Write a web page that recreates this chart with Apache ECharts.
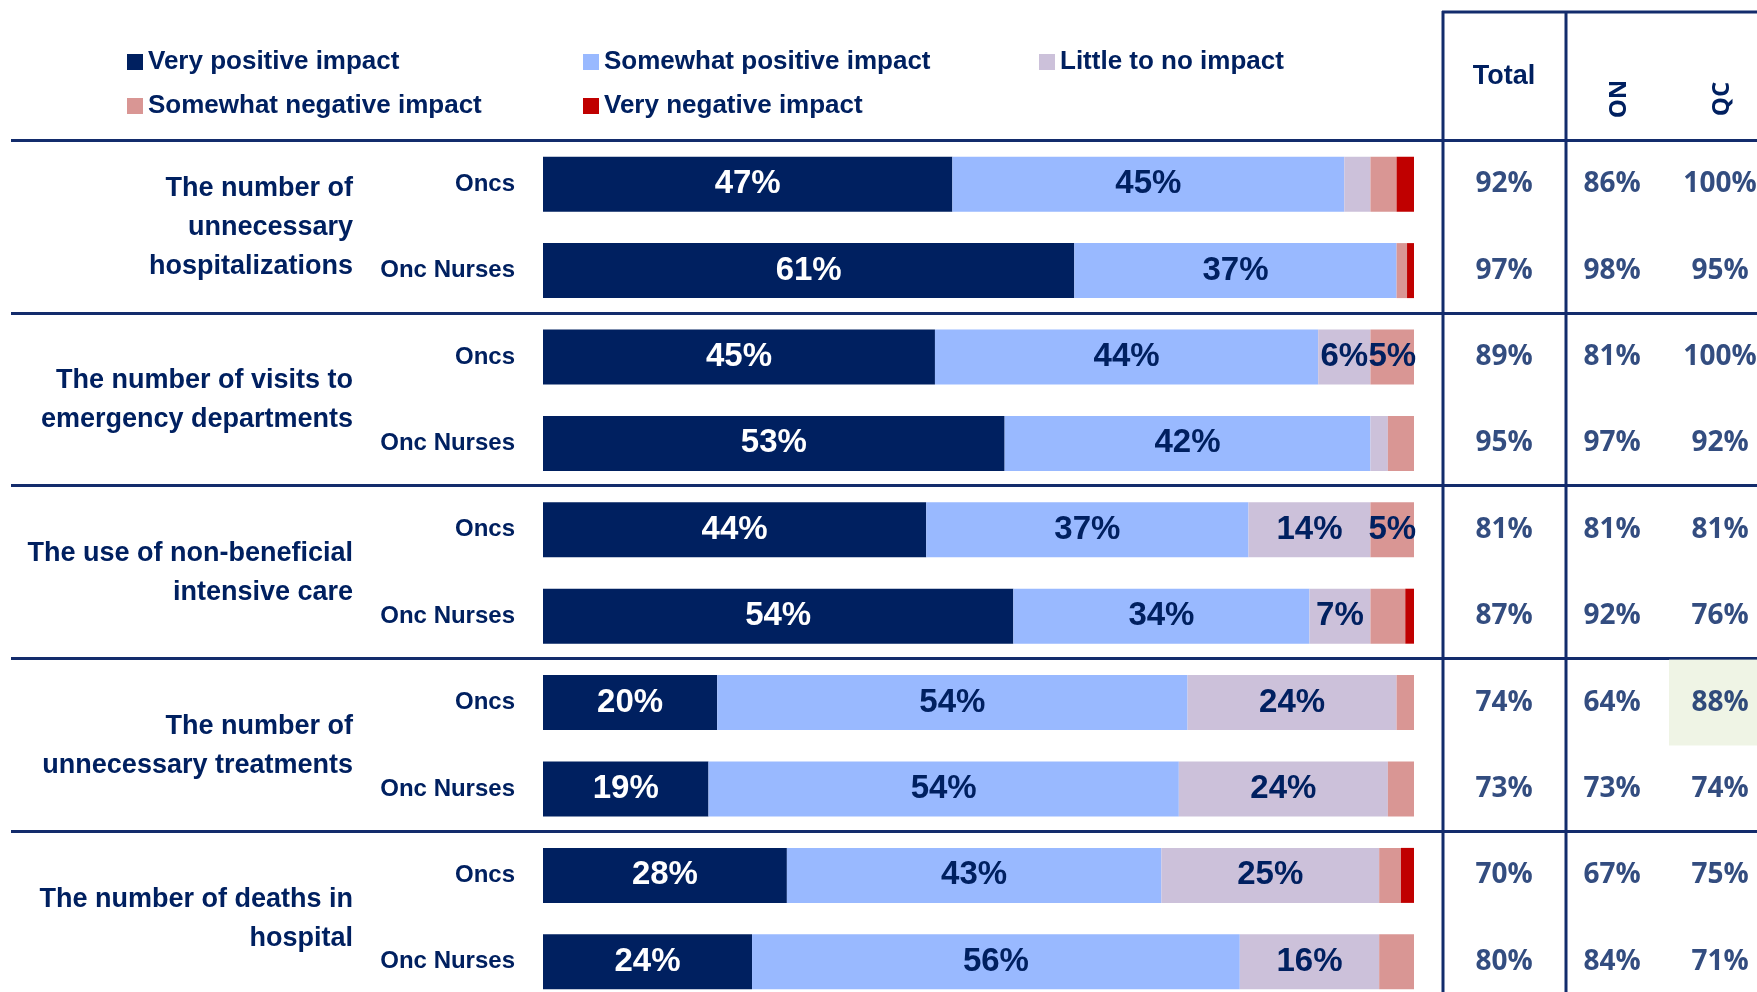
<!DOCTYPE html>
<html>
<head>
<meta charset="utf-8">
<script src="https://cdn.jsdelivr.net/npm/echarts@6/dist/echarts.min.js"></script>
<style>
  html, body { margin: 0; padding: 0; background: #fff; }
  #chart { width: 1757px; height: 992px; }
</style>
</head>
<body>
<div id="chart"></div>
<script>
// groups (left labels) and the rows inside them
var groups = [
  'The number of\nunnecessary\nhospitalizations',
  'The number of visits to\nemergency departments',
  'The use of non-beneficial\nintensive care',
  'The number of\nunnecessary treatments',
  'The number of deaths in\nhospital'
];
var rows = ['Oncs', 'Onc Nurses', 'Oncs', 'Onc Nurses', 'Oncs', 'Onc Nurses', 'Oncs', 'Onc Nurses', 'Oncs', 'Onc Nurses'];

// stacked bar values (%)
var veryPositive     = [47, 61, 45, 53, 44, 54, 20, 19, 28, 24];
var somewhatPositive = [45, 37, 44, 42, 37, 34, 54, 54, 43, 56];
var littleImpact     = [3, 0, 6, 2, 14, 7, 24, 24, 25, 16];
var somewhatNegative = [3, 1.2, 5, 3, 5, 4, 2, 3, 2.5, 4];
var veryNegative     = [2, 0.8, 0, 0, 0, 1, 0, 0, 1.5, 0];

// table on the right
var tableCols = ['Total', 'ON', 'QC'];
var totalPct = [92, 97, 89, 95, 81, 87, 74, 73, 70, 80];
var onPct    = [86, 98, 81, 97, 81, 92, 64, 73, 67, 84];
var qcPct    = [100, 95, 100, 92, 81, 76, 88, 74, 75, 71];
var highlighted = [[2, 6]];

var navy = '#002060';
var lineColor = '#132c6c';
var font = "'Liberation Sans', Arial, sans-serif";
var tableFont = "'Open Sans', 'Liberation Sans', sans-serif";

var chart = echarts.init(document.getElementById('chart'));

function barSeries(name, data, color, labelColor) {
  return {
    name: name,
    type: 'bar',
    stack: 'all',
    xAxisIndex: 1,
    yAxisIndex: 1,
    barWidth: 55,
    data: data,
    itemStyle: { color: color },
    label: {
      show: true,
      position: 'inside',
      color: labelColor,
      fontFamily: font,
      fontWeight: 'bold',
      fontSize: 33,
      formatter: function (p) {
        return p.value >= 5 ? p.value + '%' : '';
      }
    }
  };
}

// one legend per entry so the columns line up like the original
function legendItem(left, top, name) {
  return {
    left: left,
    top: top,
    padding: 0,
    itemWidth: 16,
    itemHeight: 16,
    icon: 'rect',
    selectedMode: false,
    textStyle: { fontSize: 26, fontWeight: 'bold', fontFamily: font, color: navy },
    data: [name]
  };
}

var tableData = [];
for (var i = 0; i < rows.length; i++) {
  tableData.push([0, i, totalPct[i]]);
  tableData.push([1, i, onPct[i]]);
  tableData.push([2, i, qcPct[i]]);
}

var option = {
  animation: false,
  backgroundColor: '#fff',
  legend: [
    legendItem(127, 49, 'Very positive impact'),
    legendItem(583, 49, 'Somewhat positive impact'),
    legendItem(1039, 49, 'Little to no impact'),
    legendItem(127, 93, 'Somewhat negative impact'),
    legendItem(583, 93, 'Very negative impact')
  ],
  grid: [
    { left: 11, right: 0, top: 140, height: 864, outerBoundsMode: 'none' },
    { left: 543, right: 343, top: 141, height: 864, outerBoundsMode: 'none' },
    { left: 1450, right: -17, top: 141, height: 864, outerBoundsMode: 'none' }
  ],
  xAxis: [
    { gridIndex: 0, type: 'value', show: false },
    { gridIndex: 1, type: 'value', min: 0, max: 100, show: false },
    { gridIndex: 2, type: 'category', data: tableCols, show: false }
  ],
  yAxis: [
    {
      gridIndex: 0, type: 'category', data: groups, inverse: true,
      axisLine: { show: false }, axisTick: { show: false }, axisLabel: { show: false },
      splitLine: { show: true, lineStyle: { color: lineColor, width: 3 } }
    },
    {
      gridIndex: 1, type: 'category', data: rows, inverse: true,
      axisLine: { show: false }, axisTick: { show: false },
      axisLabel: { margin: 28, color: navy, fontFamily: font, fontWeight: 'bold', fontSize: 24 }
    },
    {
      gridIndex: 1, type: 'category', data: groups, inverse: true, position: 'left', offset: 175,
      axisLine: { show: false }, axisTick: { show: false },
      axisLabel: { margin: 15, color: navy, fontFamily: font, fontWeight: 'bold', fontSize: 27, lineHeight: 39, align: 'right' }
    },
    { gridIndex: 2, type: 'category', data: rows, inverse: true, show: false }
  ],
  series: [
    barSeries('Very positive impact', veryPositive, navy, '#fff'),
    barSeries('Somewhat positive impact', somewhatPositive, '#99B9FF', navy),
    barSeries('Little to no impact', littleImpact, '#CCC1DA', navy),
    barSeries('Somewhat negative impact', somewhatNegative, '#D99694', navy),
    barSeries('Very negative impact', veryNegative, '#C00000', navy),
    {
      type: 'scatter',
      xAxisIndex: 2,
      yAxisIndex: 3,
      symbol: 'rect',
      symbolSize: [102, 86],
      itemStyle: { color: '#EBF1DE' },
      z: 1,
      silent: true,
      data: highlighted
    },
    {
      type: 'scatter',
      xAxisIndex: 2,
      yAxisIndex: 3,
      symbolSize: 1,
      itemStyle: { color: 'rgba(0,0,0,0)' },
      z: 3,
      silent: true,
      label: {
        show: true,
        position: 'inside',
        color: navy,
        fontFamily: tableFont,
        fontWeight: 'bold',
        fontSize: 28,
        formatter: function (p) { return p.value[2] + '%'; }
      },
      data: tableData
    }
  ],
  graphic: [
    { type: 'line', shape: { x1: 1443, y1: 11, x2: 1443, y2: 992 }, style: { stroke: lineColor, lineWidth: 3 } },
    { type: 'line', shape: { x1: 1566, y1: 11, x2: 1566, y2: 992 }, style: { stroke: lineColor, lineWidth: 3 } },
    { type: 'line', shape: { x1: 1442, y1: 12, x2: 1757, y2: 12 }, style: { stroke: lineColor, lineWidth: 3 } },
    { type: 'text', x: 1504, y: 77, style: { text: 'Total', align: 'center', verticalAlign: 'middle', fill: navy, font: 'bold 27px ' + font } },
    { type: 'text', x: 1619, y: 99, rotation: Math.PI / 2, style: { text: 'ON', align: 'center', verticalAlign: 'middle', fill: navy, font: 'bold 24px ' + tableFont } },
    { type: 'text', x: 1722, y: 99, rotation: Math.PI / 2, style: { text: 'QC', align: 'center', verticalAlign: 'middle', fill: navy, font: 'bold 24px ' + tableFont } }
  ]
};

chart.setOption(option);
</script>
</body>
</html>
